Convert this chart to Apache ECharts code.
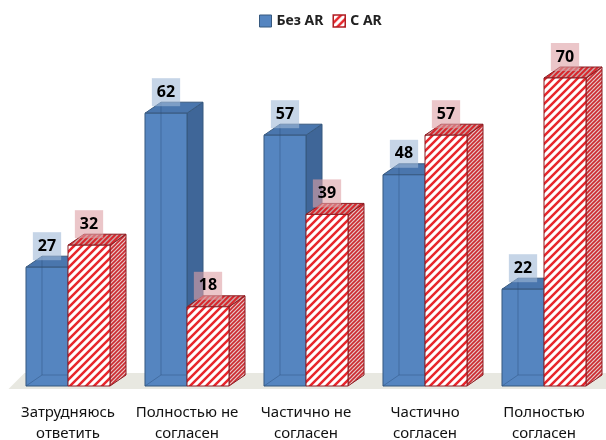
<!DOCTYPE html>
<html>
<head>
<meta charset="utf-8">
<script src="https://cdn.jsdelivr.net/npm/echarts@6/dist/echarts.min.js"></script>
<style>
  html, body { margin: 0; padding: 0; background: #fff; }
  #chart { width: 606px; height: 440px; }
</style>
</head>
<body>
<div id="chart"></div>
<script>
// данные
var categories = ['Затрудняюсь\nответить', 'Полностью не\nсогласен', 'Частично не\nсогласен', 'Частично\nсогласен', 'Полностью\nсогласен'];
var seriesNames = ['Без AR', 'С AR'];
var withoutAR = [27, 62, 57, 48, 22];
var withAR = [32, 18, 39, 57, 70];

// глубина 3D
var DX = 16, DY = -11;
var FONT = '"Noto Sans", "Open Sans", sans-serif';

// штриховка
function stripes(size, lw, bg, fg) {
  var c = document.createElement('canvas');
  c.width = size; c.height = size;
  var ctx = c.getContext('2d');
  ctx.fillStyle = bg;
  ctx.fillRect(0, 0, size, size);
  ctx.strokeStyle = fg;
  ctx.lineWidth = lw;
  ctx.beginPath();
  ctx.moveTo(-1, size + 1); ctx.lineTo(size + 1, -1);
  ctx.moveTo(-1, 1); ctx.lineTo(1, -1);
  ctx.moveTo(size - 1, size + 1); ctx.lineTo(size + 1, size - 1);
  ctx.stroke();
  return { image: c, repeat: 'repeat' };
}

var redFront = stripes(8, 2.5, '#ffffff', '#e8262c');
var redTop = stripes(5, 2, '#c9a4a4', '#d8262c');
var redSide = stripes(4, 1.6, '#e6c9c9', '#cc2a30');

var styles = [
  {
    front: '#5585c0', top: '#4a76ad', side: '#3f6698', stroke: '#37597f',
    labelBg: 'rgba(160,185,215,0.6)', edges: true
  },
  {
    front: redFront, top: redTop, side: redSide, stroke: '#8c1c22',
    labelBg: 'rgba(222,160,165,0.6)', edges: false
  }
];

function makeBar(idx) {
  var s = styles[idx];
  return function (params, api) {
    var c = api.value(0), v = api.value(1);
    var b = api.coord([c, 0]);
    var t = api.coord([c, v]);
    var w = api.size([1, 0])[0] * 0.353;
    var x0 = idx === 0 ? b[0] - w : b[0];
    var x1 = x0 + w;
    var yb = b[1], yt = t[1];
    var children = [
      {
        type: 'polygon',
        shape: { points: [[x1, yt], [x1 + DX, yt + DY], [x1 + DX, yb + DY], [x1, yb]] },
        style: { fill: s.side, stroke: s.stroke, lineWidth: 1 }
      },
      {
        type: 'polygon',
        shape: { points: [[x0, yt], [x0 + DX, yt + DY], [x1 + DX, yt + DY], [x1, yt]] },
        style: { fill: s.top, stroke: s.stroke, lineWidth: 1 }
      },
      {
        type: 'rect',
        shape: { x: x0, y: yt, width: w, height: yb - yt },
        style: { fill: s.front, stroke: s.stroke, lineWidth: 1 }
      }
    ];
    if (s.edges) {
      // полупрозрачные задние рёбра
      children.push({
        type: 'polyline',
        shape: { points: [[x0 + DX, yt + DY], [x0 + DX, yb + DY], [x1, yb + DY]] },
        style: { fill: null, stroke: 'rgba(45,80,125,0.45)', lineWidth: 1 }
      });
      children.push({
        type: 'line',
        shape: { x1: x0, y1: yb, x2: x0 + DX, y2: yb + DY },
        style: { stroke: 'rgba(45,80,125,0.45)', lineWidth: 1 }
      });
    }
    children.push({
      type: 'text',
      x: (x0 + x1) / 2,
      y: yt - 21,
      style: {
        text: String(v), align: 'center', verticalAlign: 'middle',
        font: 'bold 16px ' + FONT, fill: '#000',
        backgroundColor: s.labelBg, padding: [6, 5]
      }
    });
    return { type: 'group', children: children };
  };
}

// пол
function renderFloor(params, api) {
  var cs = params.coordSys;
  var yb = cs.y + cs.height + 3;
  return {
    type: 'polygon',
    shape: { points: [[cs.x, yb], [cs.x + cs.width + 4, yb], [cs.x + cs.width + 4 + DX, yb - 16], [cs.x + DX, yb - 16]] },
    style: { fill: '#e8e8e1' },
    silent: true
  };
}

function toData(arr) {
  return arr.map(function (v, i) { return [i, v]; });
}

var chart = echarts.init(document.getElementById('chart'), null, { renderer: 'canvas' });
chart.setOption({
  animation: false,
  legend: {
    top: 9,
    left: 254,
    itemWidth: 12,
    itemHeight: 12,
    itemGap: 9,
    itemTextGap: 4,
    icon: 'rect',
    textStyle: { fontFamily: FONT, fontSize: 14, color: '#222', fontWeight: 'bold' },
    data: [
      { name: seriesNames[0], itemStyle: { color: '#5585c0', borderColor: '#37597f', borderWidth: 1 } },
      { name: seriesNames[1], itemStyle: { color: redFront, borderColor: '#b01c22', borderWidth: 1.5 } }
    ]
  },
  grid: { left: 8.5, right: 2.5, top: 34, bottom: 54, outerBoundsMode: 'none', containLabel: false },
  xAxis: {
    type: 'category',
    data: categories,
    axisLine: { show: false },
    axisTick: { show: false },
    axisLabel: {
      interval: 0, margin: 16, fontFamily: FONT, fontSize: 15, color: '#111', lineHeight: 21
    }
  },
  yAxis: { type: 'value', min: 0, max: 80, show: false },
  series: [
    { type: 'custom', name: 'floor', renderItem: renderFloor, data: [[0, 0]], z: 1, silent: true },
    {
      type: 'custom', name: seriesNames[0], renderItem: makeBar(0), data: toData(withoutAR), z: 2,
      itemStyle: { color: '#5585c0' }
    },
    {
      type: 'custom', name: seriesNames[1], renderItem: makeBar(1), data: toData(withAR), z: 3,
      itemStyle: { color: redFront }
    }
  ]
});
</script>
</body>
</html>
